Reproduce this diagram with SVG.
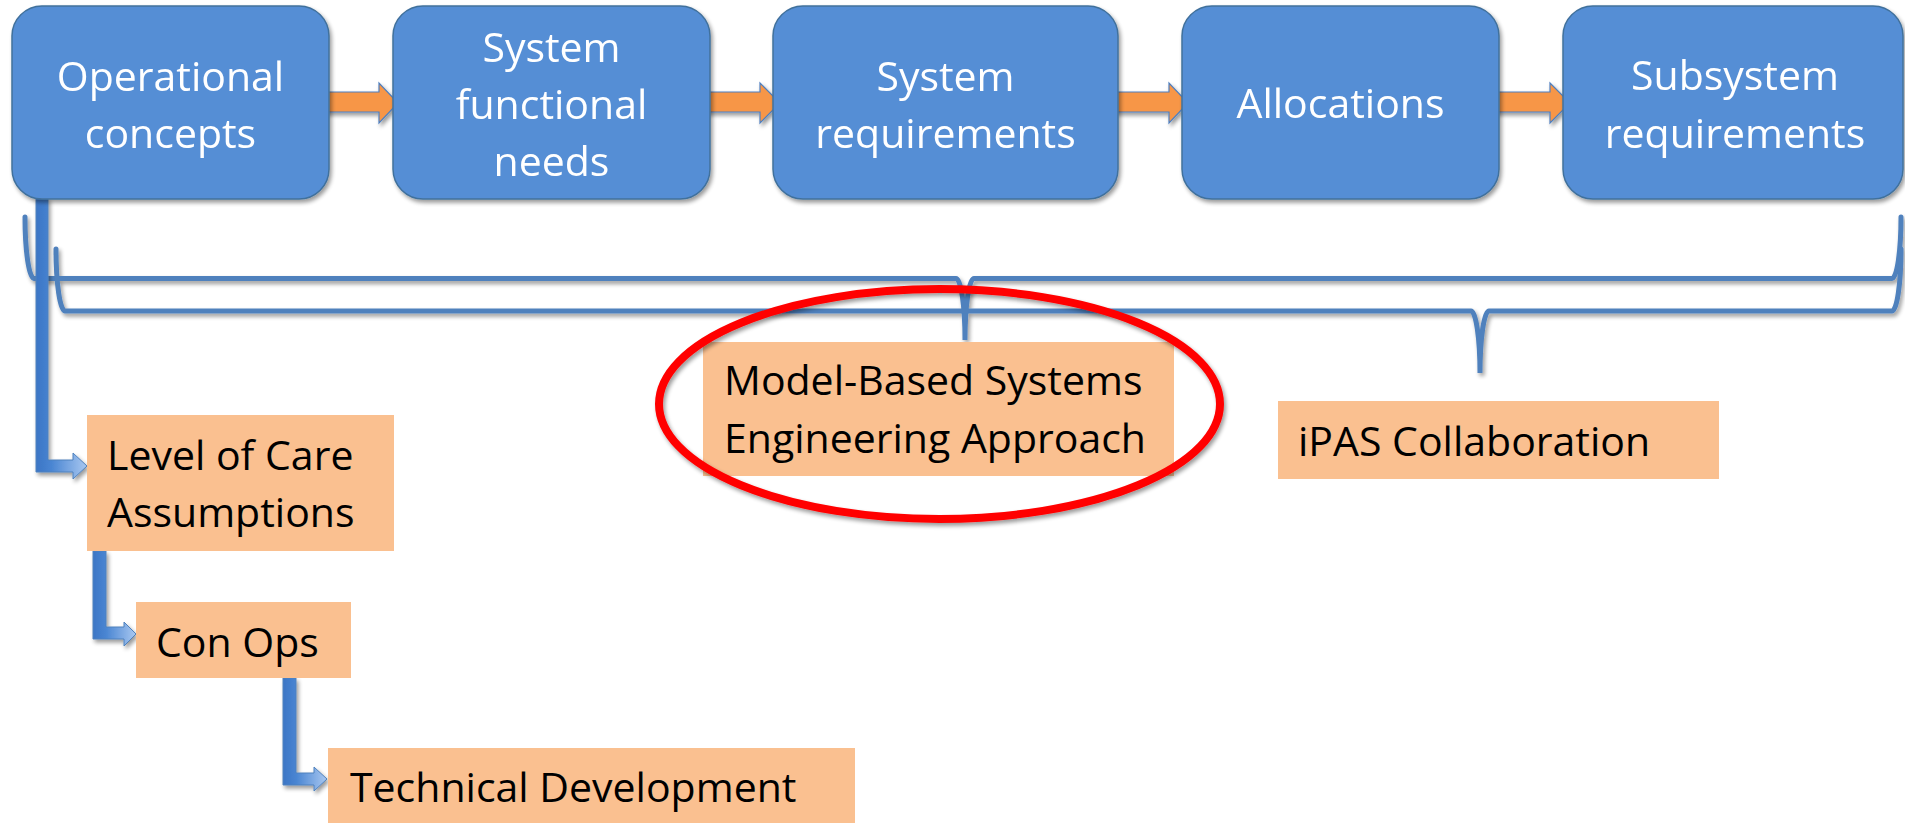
<svg xmlns="http://www.w3.org/2000/svg" width="1905" height="823" viewBox="0 0 1905 823">
  <style>
    .box { fill: #558ED5; stroke: #41719C; stroke-width: 1.5; }
    .wt { font-family: "Open Sans", "Liberation Sans", sans-serif; font-size: 41px; fill: #FFFFFF; text-anchor: middle; }
    .ob { fill: #FAC090; }
    .bt { font-family: "Open Sans", "Liberation Sans", sans-serif; font-size: 41px; fill: #000000; }
    .oarrow { fill: #F79646; stroke: #4F7FBF; stroke-width: 1.2; }
    .brace { fill: none; stroke: #4F81BD; stroke-width: 5; stroke-linecap: round; }
    .barrow { fill: url(#bgrad); stroke: #4F81BD; stroke-width: 1; }
    .ring { fill: none; stroke: #FF0000; stroke-width: 8; }
  </style>
  <defs>
    <filter id="sh" x="-10%" y="-10%" width="120%" height="130%">
      <feGaussianBlur in="SourceAlpha" stdDeviation="2"/>
      <feOffset dx="2" dy="3" result="o"/>
      <feComponentTransfer><feFuncA type="linear" slope="0.4"/></feComponentTransfer>
      <feMerge><feMergeNode/><feMergeNode in="SourceGraphic"/></feMerge>
    </filter>
    <linearGradient id="bgrad" x1="0" y1="0" x2="1" y2="0">
      <stop offset="0" stop-color="#3B75C5"/>
      <stop offset="0.3" stop-color="#4985D2"/>
      <stop offset="1" stop-color="#A9C8F1"/>
    </linearGradient>
  </defs>

  <g id="connectors">
    <g filter="url(#sh)">
      <path class="brace" d="M25,217 A9,61.5 0 0 0 34,278.5 L956,278.5 A9,61.5 0 0 1 965,340 A9,61.5 0 0 1 974,278.5 L1892,278.5 A9,61.5 0 0 0 1901,217"/>
      <path class="brace" d="M56,249 A9,62 0 0 0 65,311 L1471,311 A9,62 0 0 1 1480,373 A9,62 0 0 1 1489,311 L1892,311 A9,62 0 0 0 1901,249"/>
    </g>
    <g filter="url(#sh)">
      <polygon class="oarrow" points="323,92 379,92 379,83 398,103 379,123 379,112 323,112"/>
      <polygon class="oarrow" points="703,92 760,92 760,83 780,103 760,123 760,112 703,112"/>
      <polygon class="oarrow" points="1112,92 1169,92 1169,83 1188,103 1169,123 1169,112 1112,112"/>
      <polygon class="oarrow" points="1493,92 1550,92 1550,83 1570,103 1550,123 1550,112 1493,112"/>
    </g>
    <g filter="url(#sh)">
      <path class="barrow" d="M36,198 H48 V460 H73 V453 L87,466 L73,479 V472 H36 Z"/>
      <path class="barrow" d="M93,551 H106 V627 H124 V622 L136,634 L124,646 V639 H93 Z"/>
      <path class="barrow" d="M283,678 H296 V773 H314 V767 L327,779 L314,791 V785 H283 Z"/>
    </g>
  </g>

  <g id="operational-concepts" filter="url(#sh)">
    <rect class="box" x="12" y="6" width="317" height="193" rx="30"/>
    <text class="wt" x="170.5" y="91">Operational</text>
    <text class="wt" x="170.5" y="148">concepts</text>
  </g>
  <g id="system-functional-needs" filter="url(#sh)">
    <rect class="box" x="393" y="6" width="317" height="193" rx="30"/>
    <text class="wt" x="551.5" y="62">System</text>
    <text class="wt" x="551.5" y="119">functional</text>
    <text class="wt" x="551.5" y="176">needs</text>
  </g>
  <g id="system-requirements" filter="url(#sh)">
    <rect class="box" x="773" y="6" width="345" height="193" rx="30"/>
    <text class="wt" x="945.5" y="91">System</text>
    <text class="wt" x="945.5" y="148">requirements</text>
  </g>
  <g id="allocations" filter="url(#sh)">
    <rect class="box" x="1182" y="6" width="317" height="193" rx="30"/>
    <text class="wt" x="1340.5" y="118">Allocations</text>
  </g>
  <g id="subsystem-requirements" filter="url(#sh)">
    <rect class="box" x="1563" y="6" width="340" height="193" rx="30"/>
    <text class="wt" x="1735" y="90">Subsystem</text>
    <text class="wt" x="1735" y="148">requirements</text>
  </g>

  <g id="level-of-care">
    <rect class="ob" x="87" y="415" width="307" height="136"/>
    <text class="bt" x="107" y="470">Level of Care</text>
    <text class="bt" x="107" y="527">Assumptions</text>
  </g>
  <g id="con-ops">
    <rect class="ob" x="136" y="602" width="215" height="76"/>
    <text class="bt" x="156" y="657">Con Ops</text>
  </g>
  <g id="technical-development">
    <rect class="ob" x="328" y="748" width="527" height="75"/>
    <text class="bt" x="350" y="802">Technical Development</text>
  </g>
  <g id="mbse">
    <rect class="ob" x="703" y="342" width="471" height="134"/>
    <text class="bt" x="724" y="395">Model-Based Systems</text>
    <text class="bt" x="724" y="453">Engineering Approach</text>
  </g>
  <g id="ipas">
    <rect class="ob" x="1278" y="401" width="441" height="78"/>
    <text class="bt" x="1298" y="456">iPAS Collaboration</text>
  </g>

  <g id="highlight" filter="url(#sh)">
    <ellipse class="ring" cx="939.5" cy="404" rx="280.5" ry="115"/>
  </g>
</svg>
